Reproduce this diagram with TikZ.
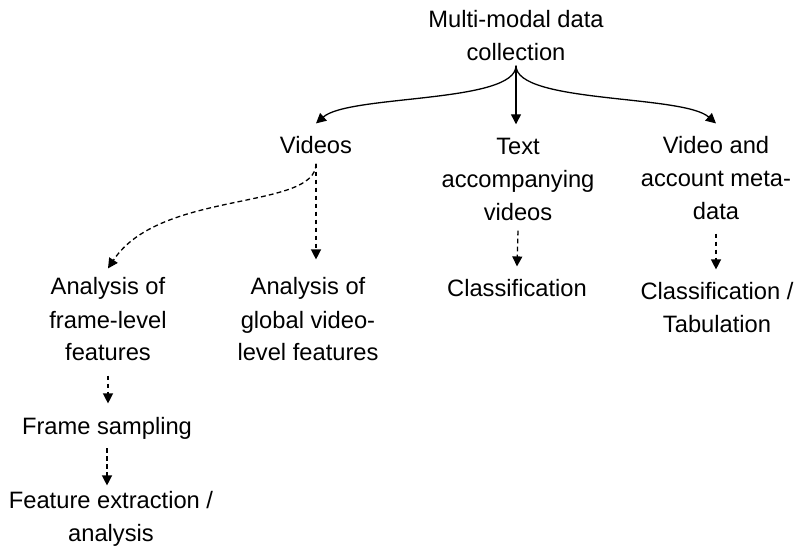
\documentclass[tikz,border=0pt]{standalone}
\usepackage{fontspec}
\setmainfont{Liberation Sans}
\usetikzlibrary{arrows.meta}

\begin{document}
\begin{tikzpicture}[x=0.5pt,y=-0.5pt,
  every node/.style={inner sep=0pt, align=center, anchor=base, font=\fontsize{11.85pt}{16.5pt}\selectfont},
  arr/.style={line width=0.65pt, -{Triangle[length=5pt,width=5pt]}},
  darr/.style={arr, dash pattern=on 2.4pt off 1.6pt}]
\useasboundingbox (0,0) rectangle (797,550);
\node (collect) at (516,61) {Multi-modal data\\collection};
\node (videos) at (316,154) {Videos};
\node (text) at (518,221) {Text\\accompanying\\videos};
\node (meta) at (716,220) {Video and\\account meta-\\data};
\node (frame) at (108,361) {Analysis of\\frame-level\\features};
\node (global) at (308,361) {Analysis of\\global video-\\level features};
\node (textcls) at (517,297) {Classification};
\node (metacls) at (717,333) {Classification /\\Tabulation};
\node (sampling) at (107,434) {Frame sampling};
\node (extract) at (111,541) {Feature extraction /\\analysis};
\draw[arr] ([yshift=-2pt]collect.south) .. controls +(0,38) and +(33,-29) .. ([yshift=6.5pt]videos.north);
\draw[arr] ([yshift=-2pt]collect.south) -- ([yshift=7pt]collect.south |- text.north);
\draw[arr] ([yshift=-2pt]collect.south) .. controls +(0,38) and +(-33,-29) .. ([yshift=6.5pt]meta.north);
\draw[darr] ([yshift=-4.5pt]videos.south) .. controls +(0,47) and +(52,-79) .. ([yshift=4.5pt]frame.north);
\draw[darr] ([yshift=-4.5pt]videos.south) -- ([yshift=9pt]videos.south |- global.north);
\draw[darr] ([yshift=-4.5pt]text.south) -- ([yshift=6.5pt]textcls.north);
\draw[darr] ([yshift=-6.5pt]meta.south) -- ([yshift=6.5pt]meta.south |- metacls.north);
\draw[darr] ([yshift=-7pt]frame.south) -- ([yshift=6.5pt]frame.south |- sampling.north);
\draw[darr] ([yshift=-4.5pt]sampling.south) -- ([yshift=2.5pt]sampling.south |- extract.north);
\end{tikzpicture}
\end{document}
